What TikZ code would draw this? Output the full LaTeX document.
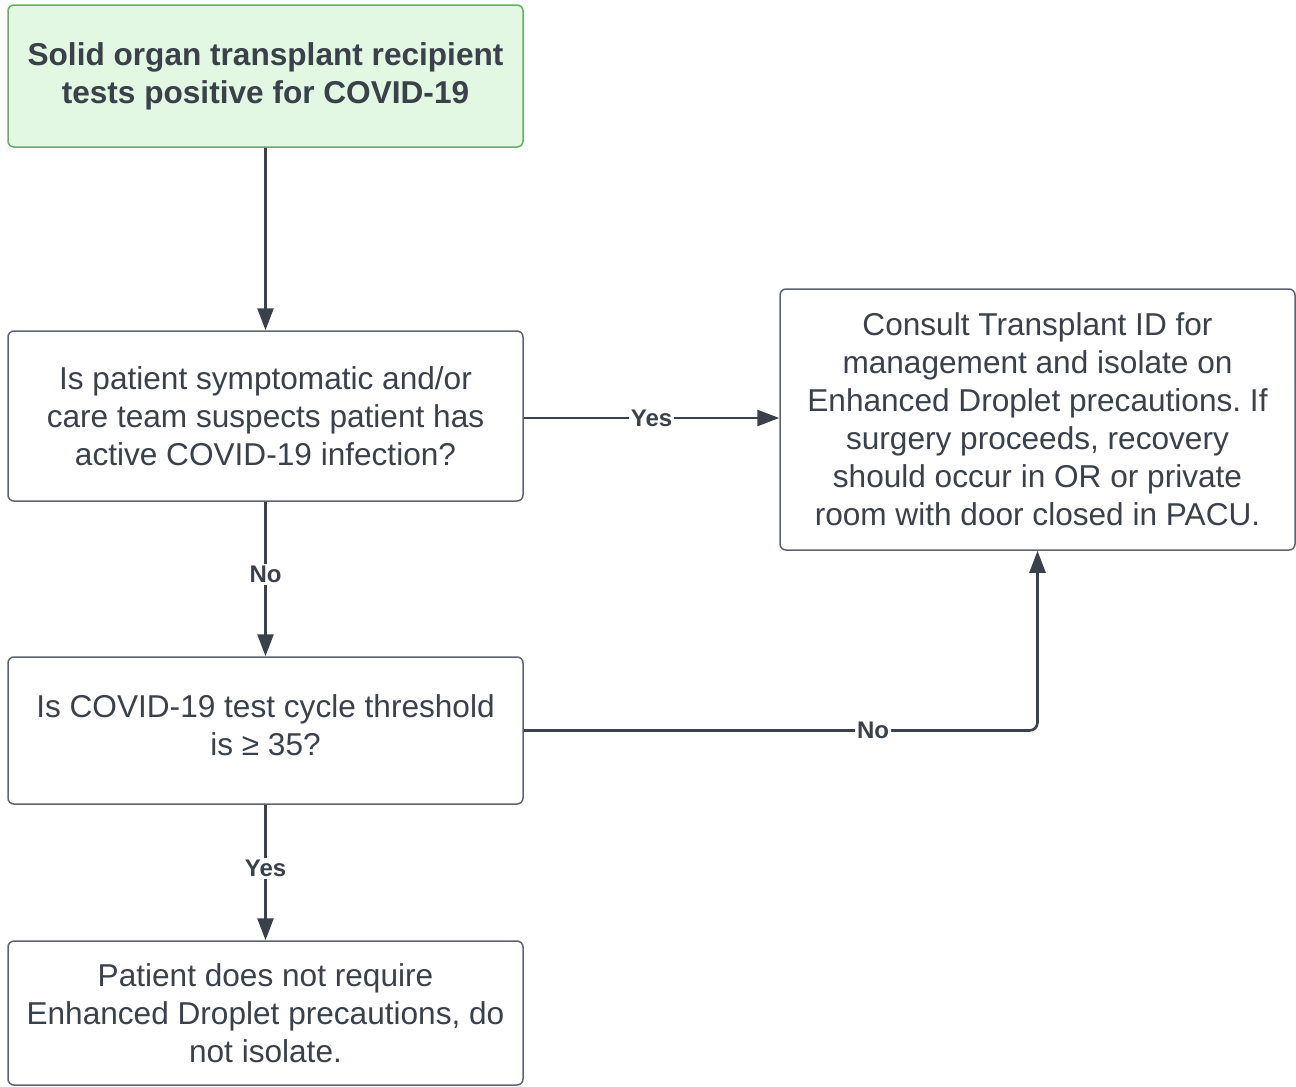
\documentclass[tikz,border=0pt]{standalone}
\usepackage{fontspec}
\setmainfont{Liberation Sans}
\usetikzlibrary{arrows.meta}
\frenchspacing
\definecolor{txt}{HTML}{3A414A}
\definecolor{bord}{HTML}{5E6570}
\definecolor{lnk}{HTML}{3A414A}
\definecolor{gfill}{HTML}{E2F8E2}
\definecolor{gbord}{HTML}{5DB35D}
\tikzset{
  box/.style={draw=bord, line width=0.75pt, rounded corners=3pt, fill=white,
    minimum width=257.5pt, align=center, inner sep=0pt, text=txt,
    font=\fontsize{15.8}{19}\selectfont},
  startbox/.style={box, draw=gbord, fill=gfill, font=\fontsize{15.8}{19}\selectfont\bfseries},
  link/.style={draw=lnk, line width=1.3pt, -{Triangle[length=11pt,width=8pt]}},
  lbl/.style={fill=white, inner sep=1pt, text=txt, font=\fontsize{12}{13}\selectfont\bfseries}
}
\begin{document}
\frenchspacing
\begin{tikzpicture}[x=0.5pt,y=-0.5pt]
\useasboundingbox (0,0) rectangle (1296,1087);
\node[startbox, minimum height=71pt] (A) at (265.5,76) {Solid organ transplant recipient\\tests positive for COVID-19};
\node[box, minimum height=85pt] (B) at (265.5,416) {Is patient symptomatic and/or\\care team suspects patient has\\active COVID-19 infection?};
\node[box, minimum height=130.5pt] (C) at (1037.5,419.5) {Consult Transplant ID for\\management and isolate on\\Enhanced Droplet precautions. If\\surgery proceeds, recovery\\should occur in OR or private\\room with door closed in PACU.};
\node[box, minimum height=73.5pt] (D) at (265.5,730.5) {Is COVID-19 test cycle threshold\\is ≥ 35?\\[-14pt]};
\node[box, minimum height=72pt] (E) at (265.5,1013) {Patient does not require\\Enhanced Droplet precautions, do\\not isolate.};
\coordinate (K) at (1037.5,730.5);
\draw[link] (A) -- (B);
\draw[link] (B.east |- 0,418) -- node[lbl, pos=0.5] {Yes} (C.west |- 0,418);
\draw[link] (B) -- node[lbl, pos=0.47] {No} (D);
\draw[link, rounded corners=4pt] (D.east) -- node[lbl, pos=0.68] {No} (K) -- (C.south);
\draw[link] (D) -- node[lbl, pos=0.47] {Yes} (E);
\end{tikzpicture}
\end{document}
